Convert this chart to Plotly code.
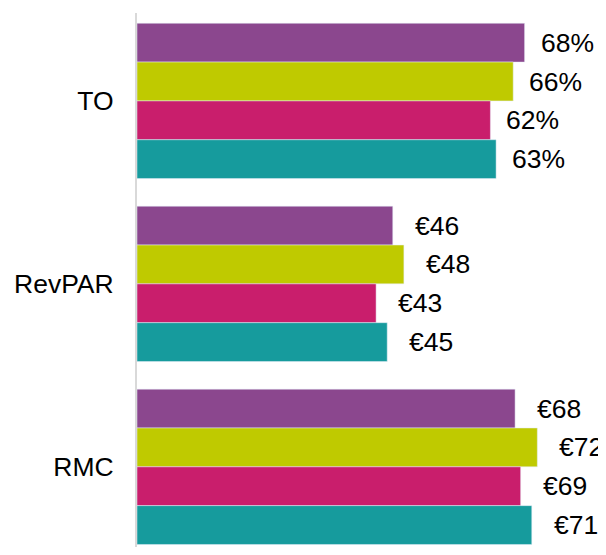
import plotly.graph_objects as go

# Data
metrics = ['TO', 'RevPAR', 'RMC']
series_names = ['Série 1', 'Série 2', 'Série 3', 'Série 4']
to_values = [68, 66, 62, 63]
revpar_values = [46, 48, 43, 45]
rmc_values = [68, 72, 69, 71]

colors = ['#8B478E', '#BFCA00', '#C91E6C', '#169B9D']
font_family = 'Arial, Liberation Sans, sans-serif'
font_size = 26.5

fig = go.Figure()

# TO (percent) gets its own hidden x axis, the euro metrics share the main one
for i, name in enumerate(series_names):
    fig.add_trace(go.Bar(
        y=[metrics[0]], x=[to_values[i]], name=name, orientation='h',
        marker=dict(color=colors[i]), xaxis='x2', yaxis='y',
        showlegend=False))
for i, name in enumerate(series_names):
    fig.add_trace(go.Bar(
        y=metrics[1:], x=[revpar_values[i], rmc_values[i]], name=name,
        orientation='h', marker=dict(color=colors[i]), xaxis='x', yaxis='y',
        showlegend=False))

# Value labels
bar_px = 38.8
annotations = []
for i in range(len(series_names)):
    yshift = (1.5 - i) * bar_px
    annotations.append(dict(
        x=to_values[i], y=metrics[0], xref='x2', yref='y',
        text=f'{to_values[i]}%', showarrow=False, xanchor='left',
        xshift=14, yshift=yshift,
        font=dict(size=font_size, color='black', family=font_family)))
    for metric, vals in zip(metrics[1:], [revpar_values, rmc_values]):
        annotations.append(dict(
            x=vals[i], y=metric, xref='x', yref='y',
            text=f'€{vals[i]}', showarrow=False, xanchor='left',
            xshift=20, yshift=yshift,
            font=dict(size=font_size, color='black', family=font_family)))

# page body has an 8px margin, so the figure is 8px smaller than the window
fig.update_layout(
    barmode='group',
    bargap=0.151,
    bargroupgap=0,
    width=598, height=539,
    margin=dict(l=129, r=0, t=5, b=0, autoexpand=False),
    paper_bgcolor='white', plot_bgcolor='white',
    font=dict(family=font_family, size=font_size, color='black'),
    annotations=annotations,
    xaxis=dict(range=[0, 84.35], visible=False, automargin=False),
    xaxis2=dict(range=[0, 82.28], visible=False, overlaying='x', automargin=False),
    yaxis=dict(type='category', categoryorder='array', categoryarray=metrics,
               range=[2.4383, -0.4805], showline=True, linecolor='#d9d9d9',
               linewidth=2, ticks='', showgrid=False, zeroline=False,
               automargin=False,
               tickfont=dict(size=font_size, color='black'), ticklabelstandoff=16),
)

fig.write_html("out.html")
